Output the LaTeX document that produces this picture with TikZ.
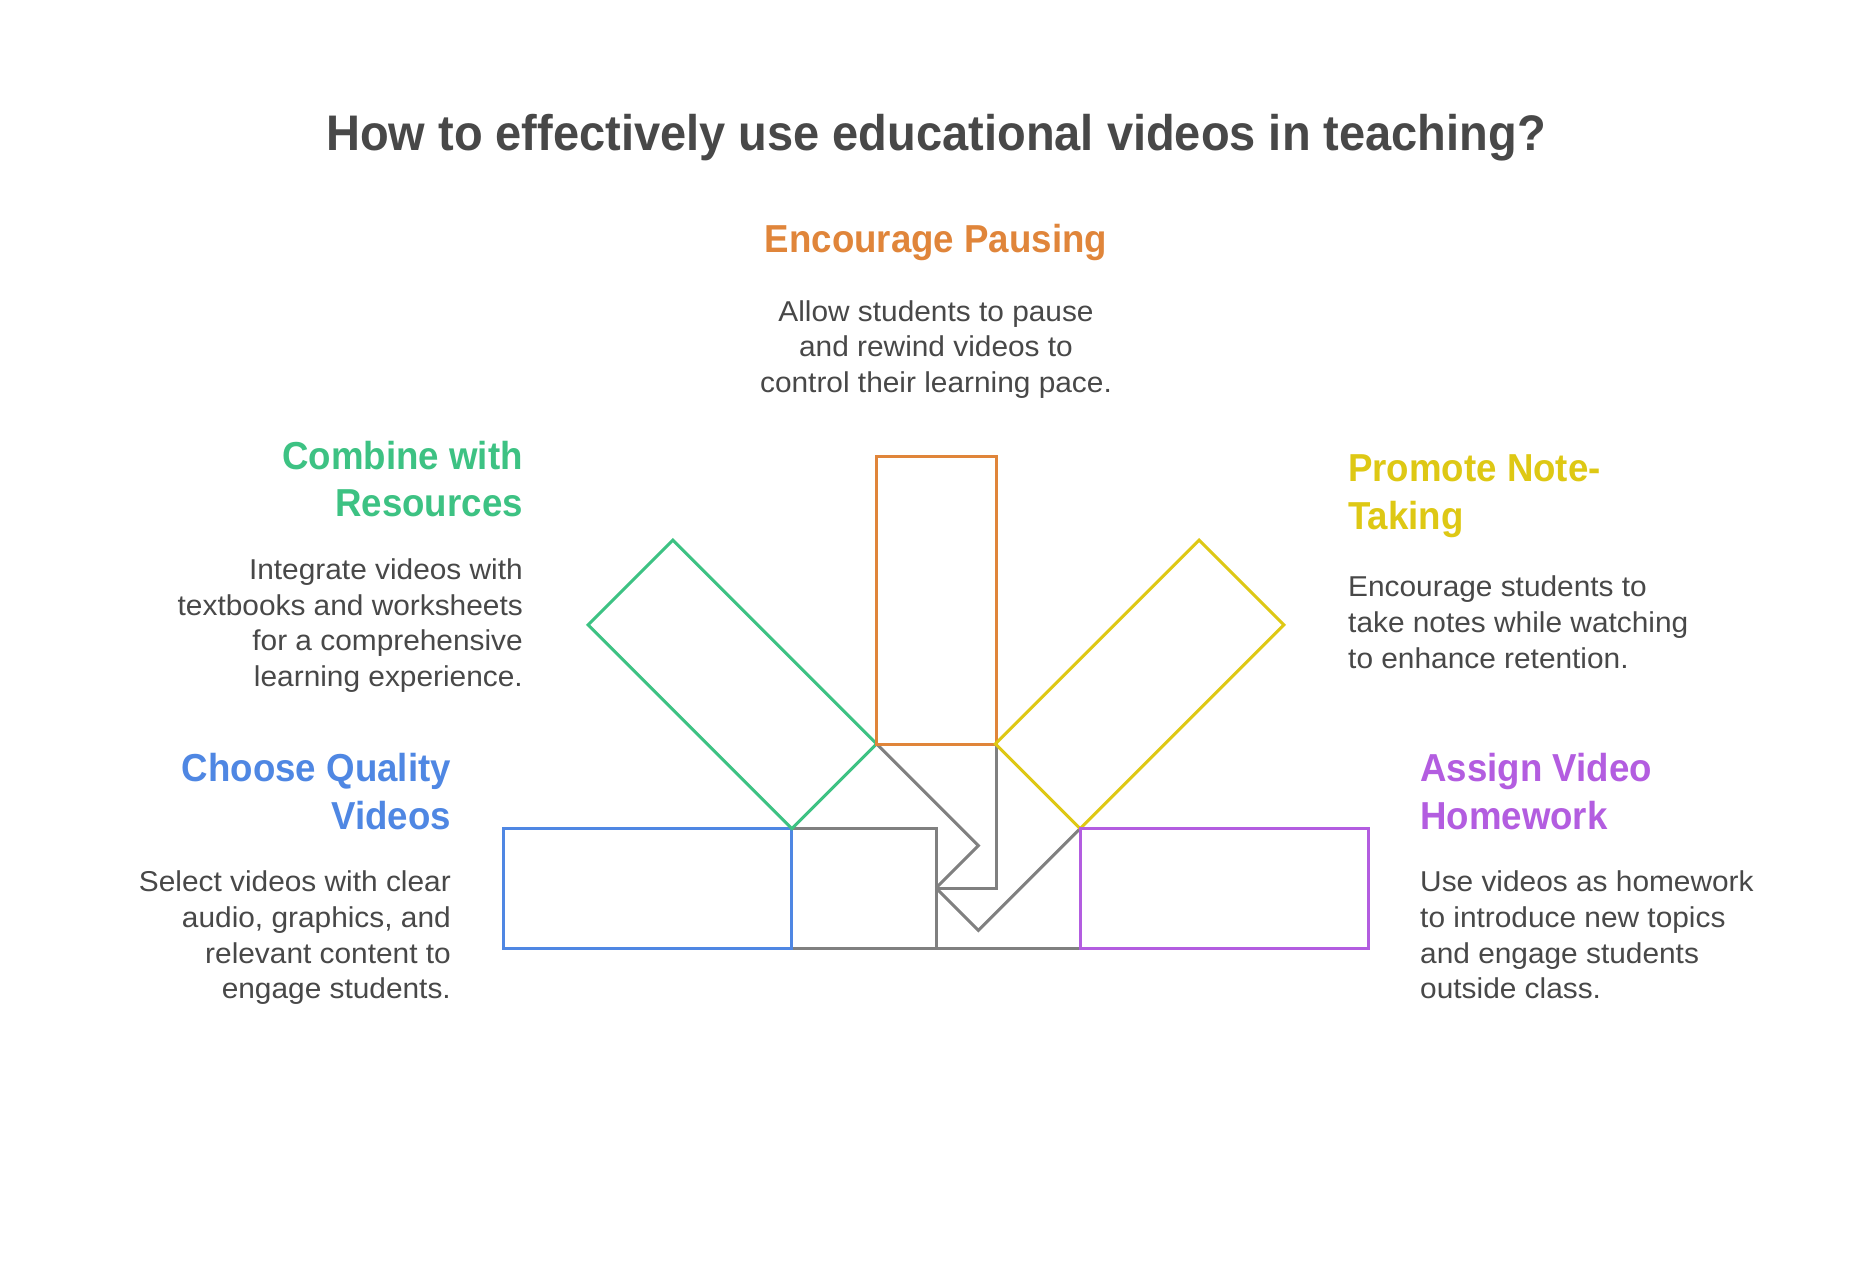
\documentclass[tikz,border=0pt]{standalone}
\usepackage{fontspec}
\setmainfont{Liberation Sans}[FakeStretch=0.94]
\newfontfamily\bodyfam{Liberation Sans}[FakeStretch=1.04]
\definecolor{txt}{HTML}{484848}
\definecolor{cblue}{HTML}{4F87E3}
\definecolor{cgreen}{HTML}{3DC283}
\definecolor{corange}{HTML}{E0853A}
\definecolor{cyellow}{HTML}{DEC814}
\definecolor{cpurple}{HTML}{B35DE0}
\definecolor{cgray}{HTML}{808080}
\tikzset{
  titletext/.style={font=\fontsize{50}{60}\selectfont\bfseries, text=txt, inner sep=0pt},
  headtext/.style={font=\fontsize{39}{47.8}\selectfont\bfseries, inner sep=0pt},
  bodytext/.style={font=\bodyfam\fontsize{28.7}{35.7}\selectfont, text=txt, inner sep=0pt},
  armbox/.style={line width=3pt, line join=miter},
  grayline/.style={draw=cgray, line width=3pt, line join=miter},
}
\begin{document}
\begin{tikzpicture}[x=1pt,y=-1pt]
\useasboundingbox[fill=white] (0,0) rectangle (1872,1273);

% key points
\coordinate (C) at (936,888);
% blue
\coordinate (b1) at (503,828); \coordinate (b2) at (791,828);
\coordinate (b3) at (791,948); \coordinate (b4) at (503,948);
% orange
\coordinate (o1) at (876,456); \coordinate (o2) at (996,456);
\coordinate (o3) at (996,744); \coordinate (o4) at (876,744);
% purple
\coordinate (p1) at (1080,828); \coordinate (p2) at (1368,828);
\coordinate (p3) at (1368,948); \coordinate (p4) at (1080,948);
% green
\coordinate (g1) at (672.9,540.1); \coordinate (g2) at (876.6,743.8);
\coordinate (g3) at (791.8,828.6); \coordinate (g4) at (588.1,624.9);
% yellow
\coordinate (y1) at (1199.1,540.1); \coordinate (y2) at (1283.9,624.9);
\coordinate (y3) at (1080.2,828.6); \coordinate (y4) at (995.4,743.8);
% gray joints
\coordinate (bt) at (936,828); \coordinate (bb) at (936,948);
\coordinate (gk) at (978.4,845.6);
\coordinate (ok) at (996,888);
\coordinate (yk) at (978.4,930.4);

% gray inner parts
\draw[grayline] (b2) -- (bt) -- (bb);
\draw[grayline] (b3) -- (p4);
\draw[grayline] (g2) -- (gk) -- (C);
\draw[grayline] (o3) -- (ok) -- (C);
\draw[grayline] (y3) -- (yk) -- (C);

% coloured parts
\draw[armbox, draw=cblue] (b1) -- (b2) -- (b3) -- (b4) -- cycle;
\draw[armbox, draw=cgreen] (g1) -- (g2) -- (g3) -- (g4) -- cycle;
\draw[armbox, draw=corange] (o1) -- (o2) -- (o3) -- (o4) -- cycle;
\draw[armbox, draw=cyellow] (y1) -- (y2) -- (y3) -- (y4) -- cycle;
\draw[armbox, draw=cpurple] (p1) -- (p2) -- (p3) -- (p4) -- cycle;

% texts (multi-line nodes anchored at the baseline of their last line)
\node[titletext, anchor=base] (title) at (936,151) {How to effectively use educational videos in teaching?};

\node[headtext, text=corange, anchor=base] (pauseH) at (936,253) {Encourage Pausing};
\node[bodytext, align=center, anchor=base] (pauseB) at (936,392.4) {Allow students to pause\\and rewind videos to\\control their learning pace.};

\node[headtext, text=cgreen, align=right, anchor=base east] (combH) at (523,516.8) {Combine with\\Resources};
\node[bodytext, align=right, anchor=base east] (combB) at (523,686.4) {Integrate videos with\\textbooks and worksheets\\for a comprehensive\\learning experience.};

\node[headtext, text=cblue, align=right, anchor=base east] (chooseH) at (451,829.5) {Choose Quality\\Videos};
\node[bodytext, align=right, anchor=base east] (chooseB) at (451,998.8) {Select videos with clear\\audio, graphics, and\\relevant content to\\engage students.};

\node[headtext, text=cyellow, align=left, anchor=base west] (noteH) at (1348,529.5) {Promote Note-\\Taking};
\node[bodytext, align=left, anchor=base west] (noteB) at (1348,668.1) {Encourage students to\\take notes while watching\\to enhance retention.};

\node[headtext, text=cpurple, align=left, anchor=base west] (homeH) at (1420,829.5) {Assign Video\\Homework};
\node[bodytext, align=left, anchor=base west] (homeB) at (1420,998.8) {Use videos as homework\\to introduce new topics\\and engage students\\outside class.};
\end{tikzpicture}
\end{document}
